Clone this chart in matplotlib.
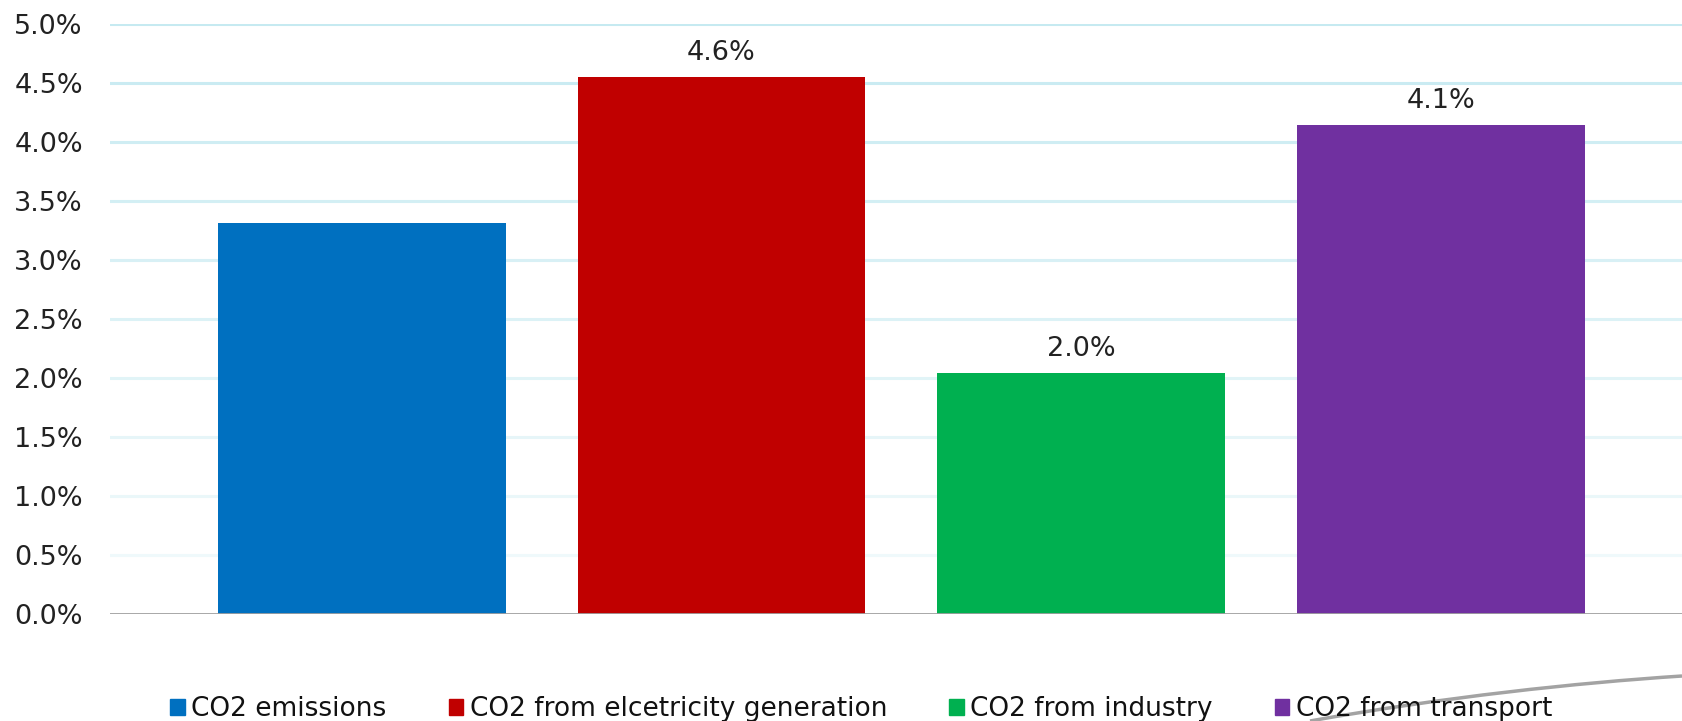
import matplotlib
matplotlib.use("Agg")
import matplotlib.pyplot as plt
from matplotlib.path import Path
from matplotlib.patches import PathPatch, Patch
from matplotlib.ticker import FuncFormatter

# data
categories = ["CO2 emissions", "CO2 from elcetricity generation",
              "CO2 from industry", "CO2 from transport"]
values = [3.31, 4.55, 2.04, 4.14]
labels = [None, "4.6%", "2.0%", "4.1%"]
colors = ["#0070C0", "#C00000", "#00B050", "#7030A0"]
yticks = [0.0, 0.5, 1.0, 1.5, 2.0, 2.5, 3.0, 3.5, 4.0, 4.5, 5.0]

W, H = 1682, 721
fig = plt.figure(figsize=(W / 100, H / 100), dpi=100)
ax = fig.add_axes([110 / W, 1 - 614 / H, 1 - 110 / W, (614 - 24) / H])

x = list(range(len(categories)))
ax.bar(x, values, width=0.8, color=colors, zorder=3)
for xi, v, lab in zip(x, values, labels):
    if lab:
        ax.text(xi, v + 0.145, lab, ha="center", va="baseline", fontsize=19.5,
                color="#222222")

# grid lines fade toward the bottom
for t in yticks[1:]:
    a = 0.2 + 0.8 * (t / 5.0)
    ax.axhline(t, color="#c6eaf1", lw=2.2, alpha=a, zorder=1)
ax.axhline(0, color="#a0a0a0", lw=2, zorder=4)

ax.set_xlim(-0.7, 3.67)
ax.set_ylim(0, 5.0)
ax.set_yticks(yticks)
ax.yaxis.set_major_formatter(FuncFormatter(lambda v, p: "%.1f%%" % v))
ax.tick_params(axis="y", length=0, labelsize=19.5, pad=19.5, colors="#222222")
ax.set_xticks([])
for s in ax.spines.values():
    s.set_visible(False)

# decorative gray swoosh at the bottom right (behind the legend)
verts = [(1310 / W, 0.0), (1445 / W, 24 / H), (1575 / W, 38 / H), (1.0, 45 / H)]
sw = Path(verts, [Path.MOVETO, Path.CURVE4, Path.CURVE4, Path.CURVE4])
fig.patches.append(PathPatch(sw, transform=fig.transFigure, fill=False,
                             edgecolor="#8c8c8c", lw=2.5, alpha=0.8))

handles = [Patch(color=c) for c in colors]
fig.legend(handles, categories, loc="lower center", ncol=4,
           bbox_to_anchor=(0.512, -0.035), frameon=False, fontsize=19,
           handlelength=0.55, handleheight=0.55, handletextpad=0.25,
           columnspacing=2.35, labelcolor="#111111")

fig.savefig("out.png", dpi=100)
